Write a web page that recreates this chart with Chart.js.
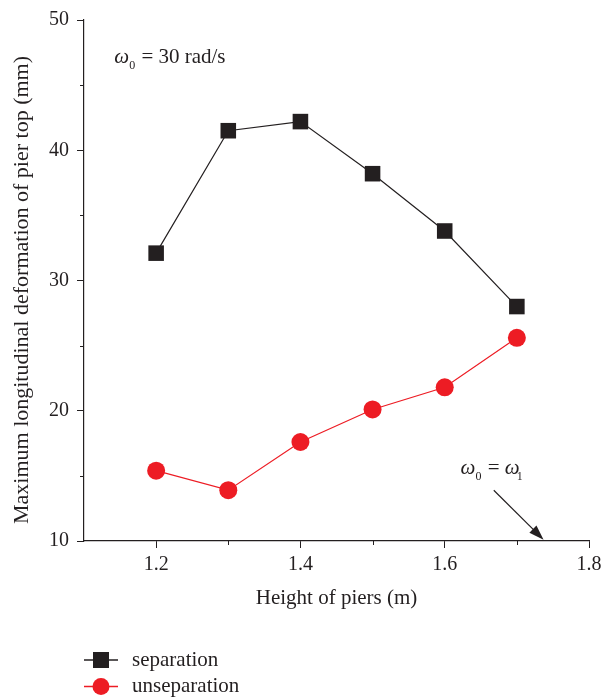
<!DOCTYPE html>
<html>
<head>
<meta charset="utf-8">
<script src="https://cdn.jsdelivr.net/npm/chart.js@4"></script>
<style>
    html, body { margin: 0; padding: 0; background: #fff; }
    #box { width: 614px; height: 697px; }
</style>
</head>
<body>
<div id="box"><canvas id="grafico"></canvas></div>
<script>
// ==========================
// DADOS
// ==========================
const alturas = [1.2, 1.3, 1.4, 1.5, 1.6, 1.7];
const separation = [32.1, 41.5, 42.2, 38.2, 33.8, 28.0];
const unseparation = [15.4, 13.9, 17.6, 20.1, 21.8, 25.6];
const nomesSeries = ["separation", "unseparation"];
const xMajor = [1.2, 1.4, 1.6, 1.8];
const yMajor = [10, 20, 30, 40, 50];
const tituloY = "Maximum longitudinal deformation of pier top (mm)";

const PRETO = "#231f20";
const VERMELHO = "#ed1c24";
const FONTE = "'Liberation Serif', 'DejaVu Serif', serif";

function pontos(vals){
    return alturas.map((x, i) => ({ x: x, y: vals[i] }));
}

function ehMaior(v, lista){
    return lista.some(m => Math.abs(m - v) < 1e-6);
}

// ticks menores + anotações + legenda
const extras = {
    id: "extras",
    afterDraw(chart){
        const ctx = chart.ctx;
        const sx = chart.scales.x, sy = chart.scales.y;
        const area = chart.chartArea;
        ctx.save();
        ctx.strokeStyle = PRETO;
        ctx.lineWidth = 1;

        // ticks menores
        for(let v = 1.3; v < 1.8; v += 0.2){
            const px = Math.round(sx.getPixelForValue(v)) + 0.5;
            ctx.beginPath(); ctx.moveTo(px, area.bottom); ctx.lineTo(px, area.bottom + 4); ctx.stroke();
        }
        for(let v = 15; v < 50; v += 10){
            const py = Math.round(sy.getPixelForValue(v)) + 0.5;
            ctx.beginPath(); ctx.moveTo(area.left, py); ctx.lineTo(area.left - 4, py); ctx.stroke();
        }

        // título do eixo y
        ctx.save();
        ctx.translate(22, 290);
        ctx.rotate(-Math.PI / 2);
        ctx.fillStyle = PRETO;
        ctx.font = "22px " + FONTE;
        ctx.textAlign = "center";
        ctx.textBaseline = "middle";
        ctx.fillText(tituloY, 0, 0);
        ctx.restore();

        // texto omega
        function omega(x, y, sub, resto){
            ctx.fillStyle = PRETO;
            ctx.textBaseline = "middle";
            ctx.textAlign = "left";
            ctx.font = "italic 21px " + FONTE;
            ctx.fillText("\u03c9", x, y);
            let w = ctx.measureText("\u03c9").width;
            ctx.font = "12px " + FONTE;
            ctx.fillText(sub, x + w, y + 8);
            w += ctx.measureText(sub).width + 1;
            ctx.font = "21px " + FONTE;
            ctx.fillText(resto, x + w, y);
            return x + w + ctx.measureText(resto).width;
        }

        omega(sx.getPixelForValue(1.142), sy.getPixelForValue(47.1), "0", " = 30 rad/s");

        const yo = sy.getPixelForValue(15.55);
        const xe = omega(sx.getPixelForValue(1.622), yo, "0", " = ");
        ctx.font = "italic 21px " + FONTE;
        ctx.fillText("\u03c9", xe, yo);
        ctx.font = "12px " + FONTE;
        ctx.fillText("1", xe + ctx.measureText("\u03c9").width + 4, yo + 8);

        // seta
        const x1 = sx.getPixelForValue(1.668), y1 = sy.getPixelForValue(13.9);
        const x2 = sx.getPixelForValue(1.737), y2 = sy.getPixelForValue(10.1);
        const ang = Math.atan2(y2 - y1, x2 - x1);
        ctx.lineWidth = 1.2;
        ctx.beginPath(); ctx.moveTo(x1, y1); ctx.lineTo(x2 - 10 * Math.cos(ang), y2 - 10 * Math.sin(ang)); ctx.stroke();
        ctx.fillStyle = PRETO;
        ctx.beginPath();
        ctx.moveTo(x2, y2);
        ctx.lineTo(x2 - 15 * Math.cos(ang) + 5 * Math.sin(ang), y2 - 15 * Math.sin(ang) - 5 * Math.cos(ang));
        ctx.lineTo(x2 - 15 * Math.cos(ang) - 5 * Math.sin(ang), y2 - 15 * Math.sin(ang) + 5 * Math.cos(ang));
        ctx.closePath(); ctx.fill();

        // legenda
        chart.data.datasets.forEach((ds, i) => {
            const y = 660 + i * 26.5;
            ctx.strokeStyle = ds.borderColor;
            ctx.lineWidth = 1.3;
            ctx.beginPath(); ctx.moveTo(84, y); ctx.lineTo(118, y); ctx.stroke();
            ctx.fillStyle = ds.pointBackgroundColor;
            if(ds.pointStyle === "rect"){
                ctx.fillRect(93, y - 8, 16, 16);
            } else {
                ctx.beginPath(); ctx.arc(101, y, 8.5, 0, Math.PI * 2); ctx.fill();
            }
            ctx.fillStyle = PRETO;
            ctx.font = "21px " + FONTE;
            ctx.textBaseline = "middle";
            ctx.textAlign = "left";
            ctx.fillText(ds.label, 132, y);
        });
        ctx.restore();
    }
};

const grafico = new Chart(document.getElementById("grafico"), {
    type: "line",
    data: {
        datasets: [
            {
                label: nomesSeries[0],
                data: pontos(separation),
                borderColor: PRETO,
                backgroundColor: PRETO,
                pointBackgroundColor: PRETO,
                pointBorderColor: PRETO,
                pointStyle: "rect",
                pointRadius: 11,
                pointBorderWidth: 0,
                borderWidth: 1.2
            },
            {
                label: nomesSeries[1],
                data: pontos(unseparation),
                borderColor: VERMELHO,
                backgroundColor: VERMELHO,
                pointBackgroundColor: VERMELHO,
                pointBorderColor: VERMELHO,
                pointStyle: "circle",
                pointRadius: 9,
                pointBorderWidth: 0,
                borderWidth: 1.2
            }
        ]
    },
    options: {
        responsive: true,
        maintainAspectRatio: false,
        animation: false,
        layout: { padding: { left: 0, right: 25, top: 17, bottom: 86 } },
        plugins: {
            legend: { display: false },
            tooltip: { enabled: false }
        },
        scales: {
            x: {
                type: "linear",
                min: 1.1,
                max: 1.8,
                afterFit: s => { s.height = 70; },
                border: { display: true, color: PRETO, width: 1.2 },
                grid: {
                    drawOnChartArea: false,
                    tickLength: 7,
                    tickColor: c => ehMaior(c.tick.value, xMajor) ? PRETO : "rgba(0,0,0,0)"
                },
                ticks: {
                    stepSize: 0.1,
                    padding: 5,
                    color: PRETO,
                    font: { family: FONTE, size: 20 },
                    maxRotation: 0,
                    autoSkip: false,
                    callback: v => ehMaior(v, xMajor) ? v.toFixed(1) : ""
                },
                title: {
                    display: true,
                    text: "Height of piers (m)",
                    color: PRETO,
                    font: { family: FONTE, size: 21 },
                    padding: { top: 0, bottom: 0 }
                }
            },
            y: {
                min: 10,
                max: 50,
                afterFit: s => { s.width = 84; },
                border: { display: true, color: PRETO, width: 1.2 },
                grid: {
                    drawOnChartArea: false,
                    tickLength: 7,
                    tickColor: c => ehMaior(c.tick.value, yMajor) ? PRETO : "rgba(0,0,0,0)"
                },
                ticks: {
                    stepSize: 5,
                    padding: 8,
                    color: PRETO,
                    font: { family: FONTE, size: 20 },
                    autoSkip: false,
                    callback: v => ehMaior(v, yMajor) ? String(v) : ""
                }
            }
        }
    },
    plugins: [extras]
});
</script>
</body>
</html>
